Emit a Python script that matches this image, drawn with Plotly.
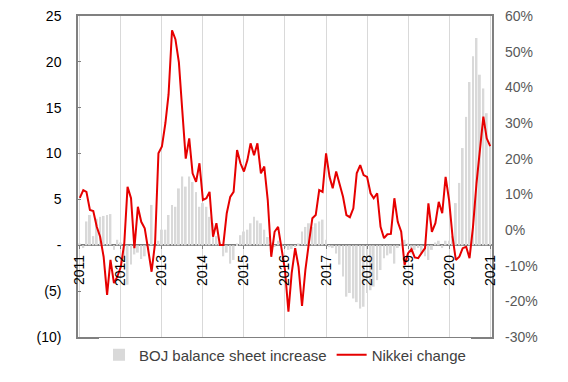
import pandas as pd
import plotly.graph_objects as go

# ---- data (monthly, Jan 2011 .. Jan 2021) ----
months = pd.date_range("2011-01-01", periods=121, freq="MS")

boj_increase = [
    0.2, -0.3, 2.6, 3.3, 1.0, 2.9, 3.1, 3.2, 3.3, 3.4, -0.5, 0.6,
    0.3, -1.6, -4.3, -2.1, -1.0, -0.8, -1.5, -1.2, -0.5, 4.4, 0.3, 0.5,
    1.7, 1.7, 3.3, 4.4, 4.2, 6.2, 7.5, 6.4, 7.5, 6.9, 5.8, 4.2,
    4.6, 4.2, 3.1, 2.4, 1.0, 0.3, -1.2, -0.8, -2.0, -1.6, 0.2, 1.1,
    1.5, 1.7, 2.4, 3.1, 2.7, 2.4, 1.7, 0.9, 0.3, -0.1, 0.5, 0.2,
    -0.3, -0.5, -0.4, -0.2, 0.2, 1.5, 2.0, 2.4, 2.0, 2.4, 2.6, 2.8,
    0.6, -0.2, -0.3, -0.9, -2.1, -3.4, -5.6, -5.2, -5.8, -6.2, -6.9, -6.7,
    -5.2, -4.9, -4.5, -3.8, -2.7, -1.4, -1.1, -0.9, -2.0, -0.3, 0.2, 0.6,
    0.2, -0.9, -0.5, -0.3, -0.9, -1.2, -1.6, -0.5, 0.3, 0.5, -0.3, 0.5,
    0.5, 1.0, 4.6, 6.8, 10.6, 14.0, 17.8, 20.6, 22.6, 18.6, 17.1, 14.4, 11.3,
]

nikkei_change = [
    9.0, 11.2, 10.7, 5.6, 5.3, 0.9, -1.9, -7.5, -18.2, -8.4, -14.9, -13.1,
    -10.3, -3.7, 12.1, 8.9, -5.1, 6.5, 2.3, 0.5, -5.6, -11.7, -3.7, 21.5,
    23.4, 30.0, 38.0, 56.0, 53.5, 47.0, 33.6, 20.0, 25.7, 15.9, 13.5, 18.7,
    8.4, 8.9, 10.7, -1.9, 1.9, -4.2, -4.2, 4.7, 9.3, 10.7, 22.4, 18.7,
    16.4, 19.6, 24.3, 21.0, 24.3, 15.9, 17.8, 8.4, -7.5, -0.5, 0.9, -4.7,
    -11.2, -22.9, -12.1, -5.1, -10.3, -21.3, -11.2, -3.7, 3.3, 4.2, 11.2, 10.7,
    21.5, 14.9, 11.7, 16.4, 13.1, 9.3, 4.2, 3.6, 6.1, 15.9, 18.2, 15.4,
    14.9, 10.3, 8.9, 10.3, 0.9, -2.3, -1.2, -1.1, 8.9, 2.3, -0.5, -9.8,
    -6.5, -5.4, -7.7, -7.9, -6.5, -5.1, 7.5, -0.5, 1.9, 7.9, 4.7, 14.9,
    8.4, -1.9, -8.4, -7.5, -5.1, -4.7, -7.9, 0.9, 13.1, 22.4, 31.8, 25.7, 23.5,
]

year_ticks = [f"{y}-01-01" for y in range(2011, 2022)]
year_labels = [str(y) for y in range(2011, 2022)]

left_tick_vals = [-10, -5, 0, 5, 10, 15, 20, 25]
left_tick_text = ["(10)", "(5)", "-", "5", "10", "15", "20", "25"]

right_tick_vals = [-30, -20, -10, 0, 10, 20, 30, 40, 50, 60]
right_tick_text = ["-30%", "-20%", "-10%", "0%", "10%", "20%", "30%", "40%", "50%", "60%"]

x_range = ["2010-12-16", "2021-01-17"]
left_range = [-10, 25]
right_range = [-30, 60]

FONT = "Liberation Sans, Arial, sans-serif"
FRAME = "#808080"

fig = go.Figure()
fig.add_trace(go.Bar(
    x=months, y=boj_increase, name="BOJ balance sheet increase",
    marker=dict(color="#d9d9d9", line=dict(width=0)),
))
fig.add_trace(go.Scatter(
    x=months, y=nikkei_change, name="Nikkei change", mode="lines",
    line=dict(color="#e60000", width=2),
    xaxis="x2", yaxis="y2",
))

# the page body adds an 8px offset, so the figure is 8px smaller than the window
fig.update_layout(
    width=560, height=374,
    margin=dict(l=70, r=76, t=8, b=45, autoexpand=False),
    paper_bgcolor="white", plot_bgcolor="white",
    font=dict(family=FONT, size=14, color="#000000"),
    bargap=0.4,
    showlegend=True,
    legend=dict(orientation="h", x=0.5, xanchor="center", y=-0.056, yanchor="middle",
                font=dict(size=15, color="#404040"), itemwidth=30),
    xaxis=dict(
        type="date", range=x_range, automargin=False,
        tickvals=year_ticks, showticklabels=False, ticks="",
        showgrid=True, gridcolor="#d9d9d9", gridwidth=1,
        showline=True, mirror=True, linecolor=FRAME, linewidth=1.5,
        zeroline=False,
    ),
    xaxis2=dict(
        type="date", range=x_range, overlaying="x", anchor="free",
        position=10 / 35, side="bottom", automargin=False,
        tickvals=year_ticks, ticktext=year_labels, tickangle=-90,
        ticks="outside", ticklen=3, tickcolor=FRAME,
        showgrid=False, showline=False, zeroline=False,
        ticklabeloverflow="allow",
        tickfont=dict(size=14, color="#000000"),
    ),
    yaxis=dict(
        range=left_range, tickvals=left_tick_vals, ticktext=left_tick_text,
        automargin=False, ticklabeloverflow="allow",
        showgrid=False, zeroline=True, zerolinecolor=FRAME, zerolinewidth=1.5,
        showline=True, mirror=True, linecolor=FRAME, linewidth=1.5,
        ticks="inside", ticklen=3, tickcolor=FRAME,
        ticklabelstandoff=12,
        tickfont=dict(size=14, color="#000000"),
    ),
    yaxis2=dict(
        range=right_range, tickvals=right_tick_vals, ticktext=right_tick_text,
        overlaying="y", side="right", anchor="x2", automargin=False,
        ticklabeloverflow="allow",
        showgrid=False, zeroline=False, showline=False,
        ticks="", ticklabelstandoff=12,
        tickfont=dict(size=14, color="#595959"),
    ),
)

fig.write_html("out.html")
